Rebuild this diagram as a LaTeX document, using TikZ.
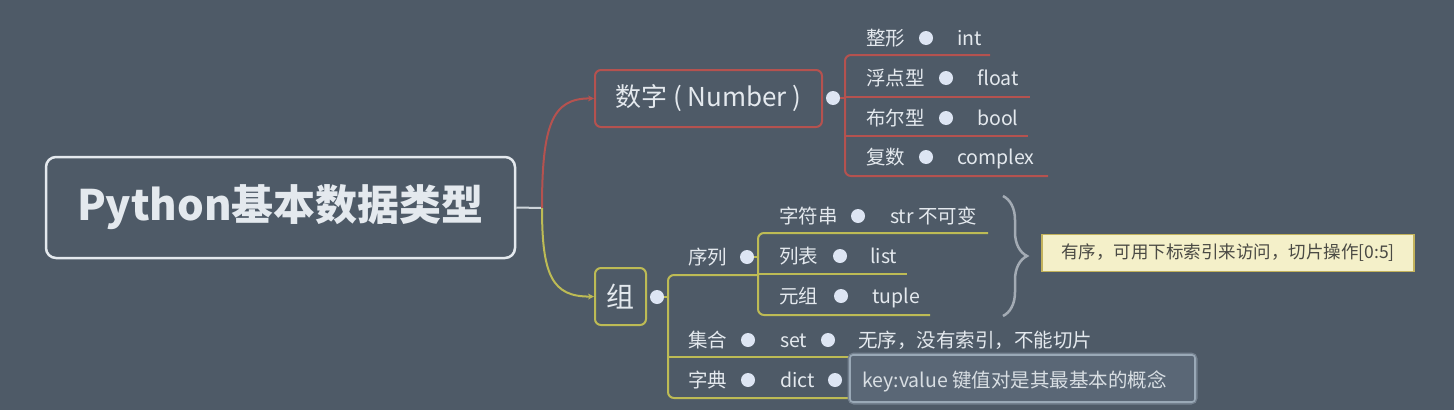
\documentclass[tikz,border=0pt]{standalone}
\usepackage{fontspec}
\setmainfont{Noto Sans CJK SC}
\newfontfamily\cjk{Noto Sans CJK SC}
\usetikzlibrary{arrows.meta,decorations.pathreplacing}
\definecolor{bg}{HTML}{4E5A67}
\definecolor{fg}{HTML}{E4E9EE}
\definecolor{redl}{HTML}{B5524F}
\definecolor{grnl}{HTML}{BDBB55}
\definecolor{dotc}{HTML}{DDE5F3}
\definecolor{bracec}{HTML}{A3ABB4}
\definecolor{notefill}{HTML}{F4F0C9}
\definecolor{notedraw}{HTML}{C2B25C}
\definecolor{notetext}{HTML}{4A4A44}
\definecolor{note2fill}{HTML}{5A6776}
\definecolor{note2draw}{HTML}{9AA9B7}
\tikzset{
  txt/.style={text=fg, font=\cjk\fontsize{19.5}{20}\selectfont, inner sep=0pt, anchor=base west, yshift=-7.4pt},
  dot/.style={circle, fill=dotc, minimum size=14pt, inner sep=0pt},
  redline/.style={draw=redl, line width=2pt},
  grnline/.style={draw=grnl, line width=2pt},
}
\begin{document}
\begin{tikzpicture}[x=1pt,y=-1pt]
\fill[bg] (0,0) rectangle (1454,410);
\useasboundingbox (0,0) rectangle (1454,410);

% main topic
\node[draw=fg, line width=2.5pt, rounded corners=10pt, minimum width=469pt, minimum height=101pt,
      text=fg, font=\cjk\bfseries\fontsize{42}{44}\selectfont] (main) at (280.5,207.5) {Python基本数据类型};
\coordinate (fork) at (542,208);
\draw[draw=fg!85!bg, line width=2pt] (main.east) -- (fork);

% level-1 boxes
\node[draw=redl, line width=2pt, rounded corners=6pt, minimum width=227pt, minimum height=57pt,
      text=fg, font=\cjk\fontsize{26}{28}\selectfont] (num) at (708.5,98.5) {数字 ( Number )};
\node[draw=grnl, line width=2pt, rounded corners=6pt, minimum width=51pt, minimum height=57pt,
      text=fg, font=\cjk\fontsize{28}{30}\selectfont] (grp) at (620.5,296.5) {组};

\draw[redline, -{Stealth[length=6pt,width=6pt]}] (fork) .. controls (542,125) and (552,98) .. (num.west);
\draw[grnline, -{Stealth[length=6pt,width=6pt]}] (fork) .. controls (542,275) and (552,297) .. (grp.west);

% Number subtree
\node[dot] (dnum) at (833,98) {};
\draw[redline] (dnum) -- (845,98);
\draw[redline, rounded corners=6pt] (990,55) -- (845,55) -- (845,176) -- (1048,176);
\draw[redline] (845,97) -- (1030,97);
\draw[redline] (845,136) -- (1028,136);

\node[txt] (n1) at (866,38) {整形};
\node[dot] (dn1) at (926,38) {};
\node[txt] (n1v) at (957,38) {int};
\node[txt] (n2) at (866,78) {浮点型};
\node[dot] (dn2) at (946,78) {};
\node[txt] (n2v) at (977,78) {float};
\node[txt] (n3) at (866,118) {布尔型};
\node[dot] (dn3) at (946,118) {};
\node[txt] (n3v) at (977,118) {bool};
\node[txt] (n4) at (866,157) {复数};
\node[dot] (dn4) at (926,157) {};
\node[txt] (n4v) at (957,157) {complex};

% Group subtree
\node[dot] (dgrp) at (657,297) {};
\draw[grnline] (dgrp) -- (668,297);
\draw[grnline, rounded corners=6pt] (758,275) -- (668,275) -- (668,398) -- (1190,398);
\draw[grnline] (668,357) -- (1115,357);

\node[txt] (seq) at (688,257) {序列};
\node[dot] (dseq) at (747,257) {};
\draw[grnline] (dseq) -- (758,257);
\draw[grnline, rounded corners=6pt] (988,233) -- (758,233) -- (758,315) -- (930,315);
\draw[grnline] (758,274) -- (907,274);

\node[txt] (s1) at (779,216) {字符串};
\node[dot] (ds1) at (858,216) {};
\node[txt] (s1v) at (890,216) {str 不可变};
\node[txt] (s2) at (779,256) {列表};
\node[dot] (ds2) at (840,256) {};
\node[txt] (s2v) at (870,256) {list};
\node[txt] (s3) at (779,296) {元组};
\node[dot] (ds3) at (841,296) {};
\node[txt] (s3v) at (872,296) {tuple};

\node[txt] (set) at (688,340) {集合};
\node[dot] (dset) at (748,340) {};
\node[txt] (setv) at (780,340) {set};
\node[dot] (dsetv) at (828,340) {};
\node[txt] (setn) at (858,340) {无序，没有索引，不能切片};

\node[txt] (dic) at (688,380) {字典};
\node[dot] (ddic) at (748,380) {};
\node[txt] (dicv) at (780,380) {dict};
\node[dot] (ddicv) at (835,380) {};

% dict note
\draw[draw=note2draw!50!bg, line width=5pt, rounded corners=4pt] (850,355) rectangle (1195,402);
\draw[fill=note2fill, draw=note2draw, line width=1.6pt, rounded corners=3pt] (850,355) rectangle (1195,402);
\node[txt, text=fg!92!bg] (dicn) at (862,380) {key:value 键值对是其最基本的概念};

% brace and sequence note
\coordinate (bt) at (1003,196);
\coordinate (bb) at (1003,316);
\draw[draw=bracec, line width=2.5pt, decorate, decoration={brace, amplitude=24pt}] (bt) -- (bb);
\node[draw=notedraw, fill=notefill, line width=1.5pt, minimum width=372pt, minimum height=37pt,
      text=notetext, font=\cjk\fontsize{17.5}{18}\selectfont, inner sep=0pt] (note1) at (1228,253) {有序，可用下标索引来访问，切片操作[0:5]};
\end{tikzpicture}
\end{document}
